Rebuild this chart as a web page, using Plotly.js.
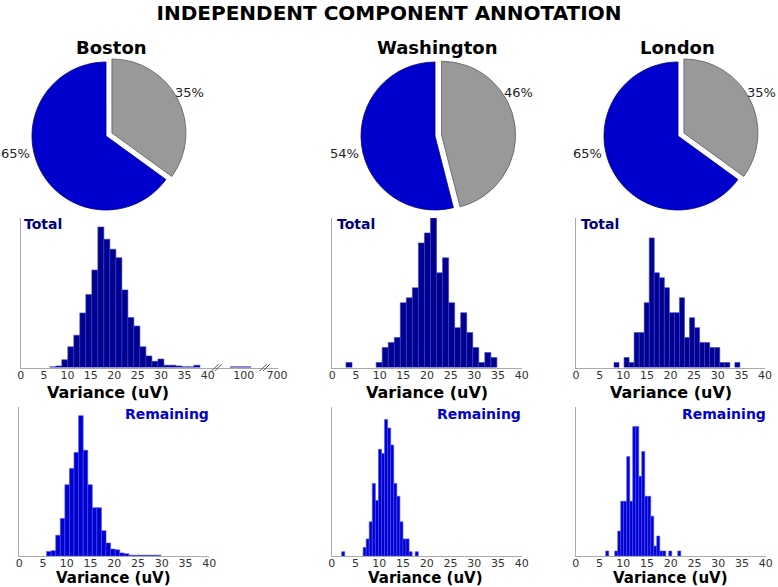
<!DOCTYPE html>
<html><head><meta charset="utf-8">
<script src="https://cdn.plot.ly/plotly-3.0.1.min.js"></script>
<style>html,body{margin:0;padding:0;background:#fff}</style>
</head><body><div id="chart" style="width:778px;height:587px"></div>
<script>
// ---------- data ----------
const cities = ['Boston', 'Washington', 'London'];
const pieLabels = ['Remaining', 'Removed'];
const pieBoston = [35, 65];
const pieWashington = [46, 54];
const pieLondon = [35, 65];

const totalBostonStart = 6.22, totalBostonWidth = 1.284;
const totalBostonCounts = [1,2,10,27,42,71,95,127,183,167,154,143,101,65,54,27,15,8,11,3,3,2,1,1,3];
const totalBostonOutlierEdges = [90.3, 105];
const totalBostonOutlierCounts = [1];

const totalWashingtonStart = 2.89, totalWashingtonWidth = 1.275;
const totalWashingtonCounts = [1,0,0,0,0,1,4,5,6,13,14,16,25,27,30,19,22,13,8,11,7,4,1,3,2];

const totalLondonStart = 8.04, totalLondonWidth = 1.066;
const totalLondonCounts = [1,0,2,1,7,7,13,26,19,18,16,11,11,14,6,10,8,5,5,4,4,1,1,0,1];

const remBostonStart = 5.75, remBostonWidth = 0.962;
const remBostonCounts = [6,7,27,49,93,114,135,183,138,93,63,63,33,17,9,8,4,3,1,1,1,1,1,1,1];

const remWashingtonStart = 2.1, remWashingtonWidth = 0.645;
const remWashingtonCounts = [1,0,0,0,0,0,0,2,4,8,17,13,25,24,32,30,26,17,14,8,4,4,1,0,1];

const remLondonStart = 6.32, remLondonWidth = 0.632;
const remLondonCounts = [1,0,0,1,5,11,11,20,11,26,26,16,21,12,12,8,2,4,1,1,0,1,0,0,1];

const tickValues = [0,5,10,15,20,25,30,35,40];
const bostonExtraTicks = [100, 700];

// ---------- layout helpers ----------
const W = 778, H = 587;
const fx = p => p / W;
const fy = p => 1 - p / H;
const FONT = 'DejaVu Sans';

// broken axis mapping for Boston "Total"
function bostonMap(v) {
  if (v <= 40) return v;
  if (v <= 300) return 47.7 + (v - 100) * 0.3;
  return 54.8 + (v - 700) * 0.3;
}

function histTrace(start, width, counts, xa, ya, color, edge, map) {
  map = map || (v => v);
  const x = [], w = [], y = [];
  counts.forEach((c, i) => {
    const a = map(start + i * width), b = map(start + (i + 1) * width);
    x.push((a + b) / 2); w.push(b - a); y.push(c === 0 ? null : c);
  });
  return {type: 'bar', x, y, width: w, xaxis: xa, yaxis: ya,
    marker: {color, line: {color: edge, width: 0.6}}, hoverinfo: 'skip', showlegend: false};
}

const NAVY = '#000090', NAVY_EDGE = '#3c3cc8';
const MBLUE = '#0000cd', MBLUE_EDGE = '#4a4aff';

const traces = [
  histTrace(totalBostonStart, totalBostonWidth, totalBostonCounts, 'x', 'y', NAVY, NAVY_EDGE, bostonMap),
  (function () {
    const a = bostonMap(totalBostonOutlierEdges[0]), b = bostonMap(totalBostonOutlierEdges[1]);
    return {type: 'bar', x: [(a + b) / 2], y: totalBostonOutlierCounts, width: [b - a], xaxis: 'x', yaxis: 'y',
      marker: {color: NAVY, line: {color: NAVY_EDGE, width: 0.6}}, hoverinfo: 'skip', showlegend: false};
  })(),
  histTrace(totalWashingtonStart, totalWashingtonWidth, totalWashingtonCounts, 'x2', 'y2', NAVY, NAVY_EDGE),
  histTrace(totalLondonStart, totalLondonWidth, totalLondonCounts, 'x3', 'y3', NAVY, NAVY_EDGE),
  histTrace(remBostonStart, remBostonWidth, remBostonCounts, 'x4', 'y4', MBLUE, MBLUE_EDGE),
  histTrace(remWashingtonStart, remWashingtonWidth, remWashingtonCounts, 'x5', 'y5', MBLUE, MBLUE_EDGE),
  histTrace(remLondonStart, remLondonWidth, remLondonCounts, 'x6', 'y6', MBLUE, MBLUE_EDGE)
];

// pies
const pieRadius = 74, pull = 0.09;
const pieCenters = [[106, 136], [435, 136], [678, 136]];
const pieData = [pieBoston, pieWashington, pieLondon];
pieData.forEach((vals, k) => {
  const [cx, cy] = pieCenters[k];
  const h = pieRadius * (1 + pull);
  traces.push({type: 'pie', values: vals, labels: pieLabels, sort: false, direction: 'clockwise', rotation: 0,
    pull: [pull, 0], textinfo: 'none', hoverinfo: 'skip', showlegend: false,
    marker: {colors: ['#999999', '#0000cc'], line: {color: ['#5a5a5a', '#00007a'], width: 0.8}},
    domain: {x: [fx(cx - h), fx(cx + h)], y: [fy(cy + h), fy(cy - h)]}});
});

const annotations = [];
const ann = (text, x, y, opts) => annotations.push(Object.assign({text, x: fx(x), y: fy(y), xref: 'paper', yref: 'paper',
  showarrow: false, xanchor: 'center', yanchor: 'middle', font: {family: FONT, size: 13, color: '#222'}}, opts || {}));

// pie titles and percent labels
const titleX = [111, 437, 677];
cities.forEach((c, k) => {
  ann('<b>' + c + '</b>', titleX[k], 48, {font: {family: FONT, size: 18, color: '#000'}});
  const vals = pieData[k], sum = vals[0] + vals[1];
  const [cx, cy] = pieCenters[k];
  ann(Math.round(vals[0] / sum * 100) + '%', cx + 83, cy - 44);
  ann(Math.round(vals[1] / sum * 100) + '%', cx - 91, cy + 17.5);
});

// histogram labels
const totalX = [21.5, 335, 579];
const remX = [211, 523, 768];
const varX2 = [108, 427, 671];
const varX3 = [113, 425, 670];
for (let k = 0; k < 3; k++) {
  ann('<b>Total</b>', totalX[k], 224, {xanchor: 'left', font: {family: FONT, size: 14, color: '#000080'}});
  ann('<b>Remaining</b>', remX[k], 414, {xanchor: 'right', font: {family: FONT, size: 14, color: '#0000cd'}});
  ann('<b>Variance (uV)</b>', varX2[k], 392.5, {font: {family: FONT, size: 16, color: '#000'}});
  ann('<b>Variance (uV)</b>', varX3[k], 577.9, {font: {family: FONT, size: 15, color: '#000'}});
}

// axes
function xa(anchor, l, r, range, tv, tt) {
  return {anchor, domain: [fx(l), fx(r)], range, showgrid: false, zeroline: false, showline: true, linecolor: '#aaaaaa', linewidth: 1,
    ticks: '', ticklabelstandoff: -3, tickvals: tv, ticktext: tt, tickfont: {family: FONT, size: 11, color: '#333'}, fixedrange: true};
}
function ya(anchor, t, b, range) {
  return {anchor, domain: [fy(b), fy(t)], range, showgrid: false, zeroline: false, showline: true, linecolor: '#aaaaaa', linewidth: 1,
    showticklabels: false, ticks: '', fixedrange: true};
}
const tt = tickValues.map(String);
const bostonTv = tickValues.concat(bostonExtraTicks).map(bostonMap);
const bostonTt = tickValues.concat(bostonExtraTicks).map(String);

// break marks on Boston total axis
const shapes = [];
const pxPerUnit = (278 - 20.7) / 55;
const breakU = [41.9, 52.2];
breakU.forEach(u => {
  [-1.6, 1.6].forEach(off => {
    const uc = u + off / pxPerUnit;
    shapes.push({type: 'line', xref: 'x', yref: 'paper', x0: uc - 3.5 / pxPerUnit, x1: uc + 3.5 / pxPerUnit,
      y0: fy(367.5 + 3.5), y1: fy(367.5 - 3.5), line: {color: '#555', width: 1}});
  });
});

const layout = {
  width: W, height: H, margin: {l: 0, r: 0, t: 0, b: 0}, paper_bgcolor: '#fff', plot_bgcolor: 'rgba(0,0,0,0)',
  font: {family: FONT},
  title: {text: '<b>INDEPENDENT COMPONENT ANNOTATION</b>', x: 0.5, xanchor: 'center', y: fy(12.5), yanchor: 'middle',
    font: {family: FONT, size: 20, color: '#000'}},
  showlegend: false,
  xaxis: xa('y', 20.7, 278, [0, 55], bostonTv, bostonTt),
  xaxis2: xa('y2', 332.3, 521.7, [0, 40], tickValues, tt),
  xaxis3: xa('y3', 576, 765, [0, 40], tickValues, tt),
  xaxis4: xa('y4', 19.3, 209.3, [0, 40], tickValues, tt),
  xaxis5: xa('y5', 331.7, 521.7, [0, 40], tickValues, tt),
  xaxis6: xa('y6', 575.7, 765.7, [0, 40], tickValues, tt),
  yaxis: ya('x', 218, 367.5, [0, 194.7]),
  yaxis2: ya('x2', 218, 367.5, [0, 30]),
  yaxis3: ya('x3', 218, 367.5, [0, 30]),
  yaxis4: ya('x4', 406.7, 556, [0, 194.7]),
  yaxis5: ya('x5', 406.7, 556, [0, 35]),
  yaxis6: ya('x6', 406.7, 556, [0, 30]),
  annotations, shapes
};
Plotly.newPlot('chart', traces, layout, {displayModeBar: false, staticPlot: true});
</script></body></html>
